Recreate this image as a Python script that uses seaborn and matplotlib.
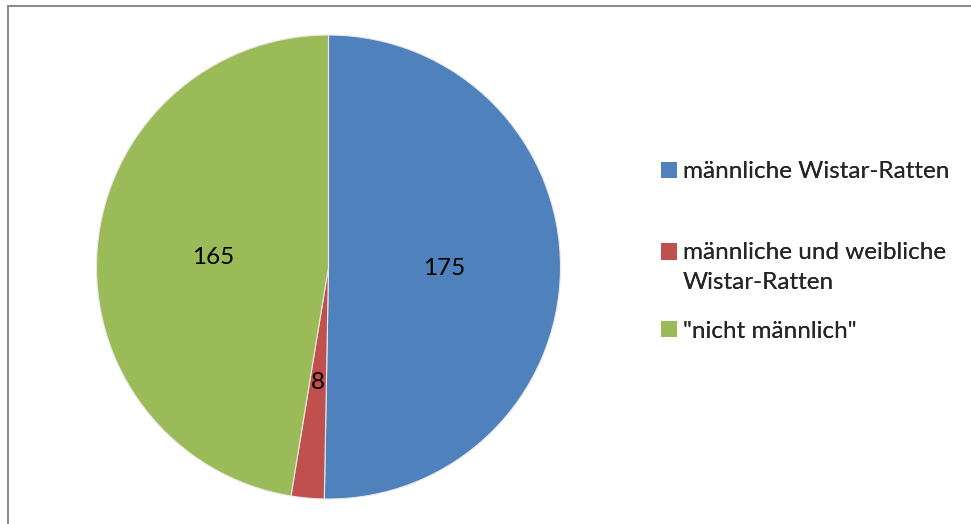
import matplotlib
matplotlib.use("Agg")
import matplotlib.pyplot as plt
import matplotlib.patches as mpatches
from matplotlib.legend_handler import HandlerPatch
import seaborn as sns

# ==========================
# DATA
# ==========================
categories = ["männliche Wistar-Ratten",
              "männliche und weibliche\nWistar-Ratten",
              "\"nicht männlich\""]
counts = [175, 8, 165]
colors = ["#4F81BD", "#C0504D", "#9BBB59"]

# ==========================
# STYLE
# ==========================
sns.set_theme(style="white")
plt.rcParams["font.family"] = ["Lato", "DejaVu Sans"]

W, H = 971, 524
fs = 17.5
fs_px = fs * 100 / 72

fig = plt.figure(figsize=(W / 100, H / 100), dpi=100)
fig.patch.set_facecolor("white")

# outer frame (only left / top visible in the crop)
fig.add_artist(mpatches.Rectangle((8 / W, -0.1), 1.2, (H - 6) / H + 0.1,
                                  transform=fig.transFigure, fill=False,
                                  edgecolor="#8c8c8c", linewidth=1.5))

# ==========================
# PIE
# ==========================
cx, cy, r = 328.5, 267, 232
ax = fig.add_axes([(cx - r) / W, (H - cy - r) / H, 2 * r / W, 2 * r / H])
wedges, texts, autotexts = ax.pie(
    counts, colors=colors, startangle=90, counterclock=False,
    radius=1, pctdistance=0.5,
    autopct=lambda p: "{:.0f}".format(p * sum(counts) / 100),
    wedgeprops=dict(edgecolor="#e8e8e8", linewidth=0.8),
    textprops=dict(fontsize=fs, color="black"))
ax.set_xlim(-1, 1)
ax.set_ylim(-1, 1)
ax.set_aspect("equal")
ax.axis("off")

# ==========================
# LEGEND (one box per entry, Excel-like spacing)
# ==========================


def square(legend, orig_handle, xdescent, ydescent, width, height, fontsize):
    return mpatches.Rectangle((-xdescent, -ydescent), width, height)


def square_top(legend, orig_handle, xdescent, ydescent, width, height, fontsize):
    # align square with first line of a two-line label
    return mpatches.Rectangle((-xdescent, -ydescent + 0.66 * fontsize), width, height)


legend_y = [172, 267.5, 331]
for i, (w, lab) in enumerate(zip(wedges, categories)):
    func = square_top if "\n" in lab else square
    leg = fig.legend([w], [lab], loc="center left",
                     bbox_to_anchor=(661 / W, 1 - legend_y[i] / H),
                     frameon=False, fontsize=fs, handlelength=16 / fs_px,
                     handleheight=16 / fs_px, handletextpad=6 / fs_px,
                     borderpad=0, borderaxespad=0,
                     handler_map={w: HandlerPatch(patch_func=func)})
    for h in leg.legend_handles:
        h.set_edgecolor("none")
    for t in leg.get_texts():
        t.set_linespacing(1.5)
    fig.add_artist(leg)

plt.savefig("out.png", dpi=100)
plt.close()
